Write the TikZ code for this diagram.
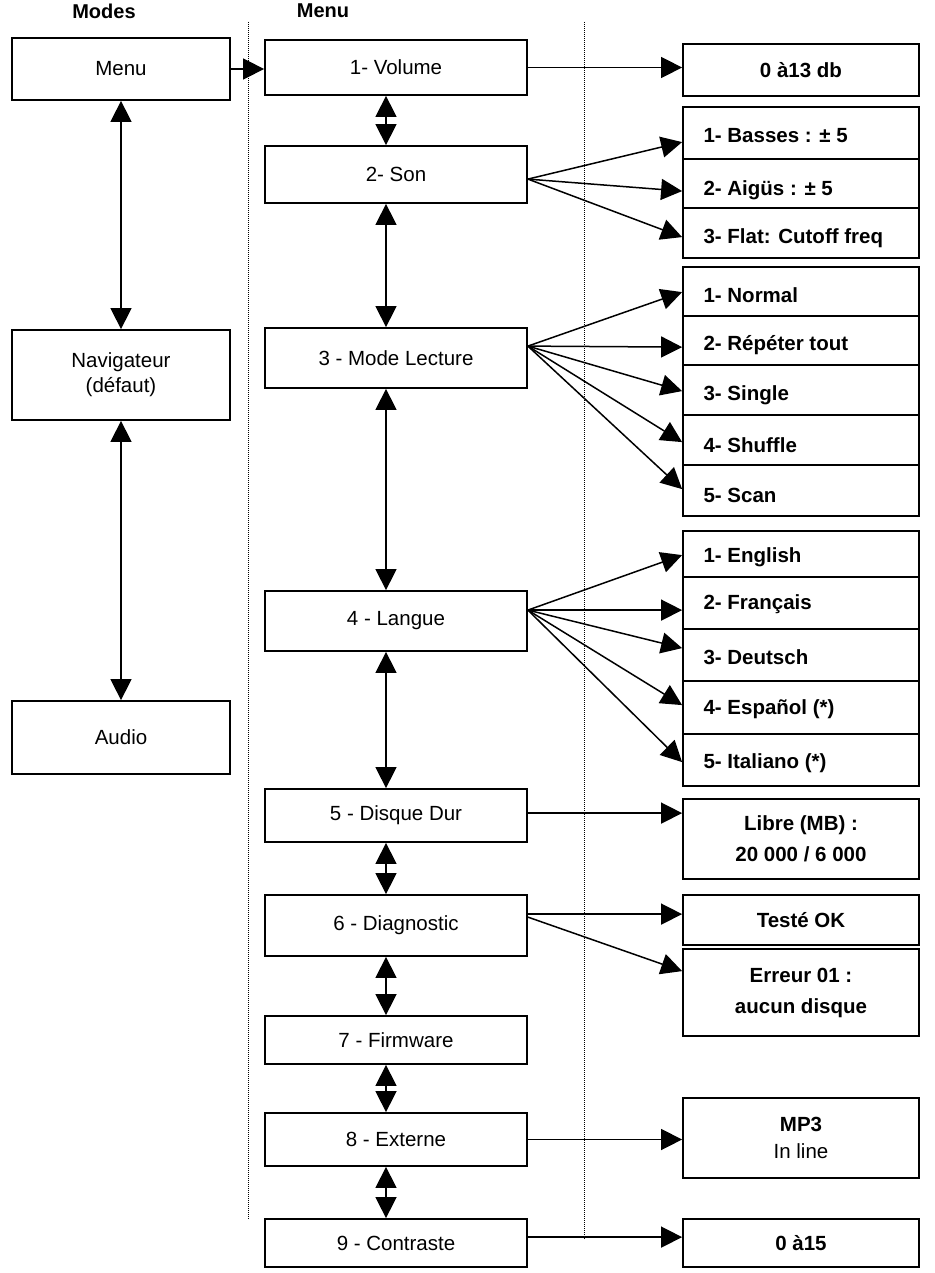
\documentclass[tikz,border=0pt]{standalone}
\usepackage{fontspec}
\setmainfont{Liberation Sans}
\usetikzlibrary{arrows.meta,calc}
\begin{document}
\begin{tikzpicture}[x=1pt,y=-1pt,
  box/.style={draw,line width=1.8pt,inner sep=0pt,font=\fontsize{20.5}{25}\selectfont,align=center},
  mbox/.style={box,minimum width=262pt},
  rbox/.style={box,minimum width=236pt,font=\fontsize{20.5}{25}\selectfont\bfseries},
  lbox/.style={box,minimum width=218pt},
  lt/.style={anchor=west,font=\fontsize{20.5}{25}\selectfont\bfseries},
  tip/.style={line width=1.5pt,-{Triangle[width=21pt,length=21pt]}},
  dbl/.style={line width=1.5pt,{Triangle[width=21pt,length=21pt]}-{Triangle[width=21pt,length=21pt]}},
  dot/.style={densely dotted,line width=1pt}]
\useasboundingbox (0,0) rectangle (934,1273);
% headers
\node[font=\fontsize{20}{24}\selectfont\bfseries] (hm) at (104,11) {Modes};
\node[font=\fontsize{20}{24}\selectfont\bfseries] (hn) at (323,11) {Menu};
% dotted separators
\coordinate (d1a) at (248,22); \coordinate (d1b) at (248,1220);
\coordinate (d2a) at (584,22); \coordinate (d2b) at (584,1240);
\draw[dot] (d1a) -- (d1b);
\draw[dot] (d2a) -- (d2b);
% left column
\node[lbox,minimum height=62pt] (menu) at (121,69) {Menu};
\node[lbox,minimum height=90pt] (nav) at (121,375) {Navigateur\\(défaut)};
\node[lbox,minimum height=73pt] (audio) at (121,737.5) {Audio};
\draw[dbl] (menu.south) -- (nav.north);
\draw[dbl] (nav.south) -- (audio.north);
% middle column
\node[mbox,minimum height=55pt] (m1) at (396,67.5) {1- Volume};
\node[mbox,minimum height=57pt] (m2) at (396,174.5) {2- Son};
\node[mbox,minimum height=60pt] (m3) at (396,358) {3 - Mode Lecture};
\node[mbox,minimum height=60pt] (m4) at (396,621) {4 - Langue};
\node[mbox,minimum height=53pt] (m5) at (396,815.5) {5 - Disque Dur};
\node[mbox,minimum height=61pt] (m6) at (396,925.5) {6 - Diagnostic};
\node[mbox,minimum height=48pt] (m7) at (396,1040) {7 - Firmware};
\node[mbox,minimum height=53pt] (m8) at (396,1139.5) {8 - Externe};
\node[mbox,minimum height=48pt] (m9) at (396,1243) {9 - Contraste};
\draw[tip] (menu.east) -- (menu.east -| m1.west);
\coordinate (cx) at (386,0);
\foreach \a/\b in {m1/m2,m2/m3,m3/m4,m4/m5,m5/m6,m6/m7,m7/m8,m8/m9}
  \draw[dbl] (\a.south -| cx) -- (\b.north -| cx);
% right column
\node[rbox,minimum height=52pt] (r1) at (801,70) {0 à13 db};
\node[rbox,minimum height=52pt] (s1) at (801,133) {};
\node[rbox,minimum height=49pt] (s2) at (801,183.5) {};
\node[rbox,minimum height=50pt] (s3) at (801,233) {};
\node[lt] (ts1) at (700,136) {1- Basses : ± 5};
\node[lt] (ts2) at (700,190) {2- Aigüs : ± 5};
\node[lt] (ts3) at (700,238) {3- Flat: Cutoff freq};
\node[rbox,minimum height=49pt] (p1) at (801,291.5) {};
\node[rbox,minimum height=49pt] (p2) at (801,340.5) {};
\node[rbox,minimum height=50pt] (p3) at (801,390) {};
\node[rbox,minimum height=50pt] (p4) at (801,440) {};
\node[rbox,minimum height=51pt] (p5) at (801,490.5) {};
\node[lt] (tp1) at (700,295) {1- Normal};
\node[lt] (tp2) at (700,345) {2- Répéter tout};
\node[lt] (tp3) at (700,395) {3- Single};
\node[lt] (tp4) at (700,445) {4- Shuffle};
\node[lt] (tp5) at (700,495) {5- Scan};
\node[rbox,minimum height=46pt] (l1) at (801,554) {};
\node[rbox,minimum height=52pt] (l2) at (801,603) {};
\node[rbox,minimum height=52pt] (l3) at (801,655) {};
\node[rbox,minimum height=53pt] (l4) at (801,707.5) {};
\node[rbox,minimum height=52pt] (l5) at (801,760) {};
\node[lt] (tl1) at (700,557) {1- English};
\node[lt] (tl2) at (700,604) {2- Français};
\node[lt] (tl3) at (700,657) {3- Deutsch};
\node[lt] (tl4) at (700,709) {4- Español (*)};
\node[lt] (tl5) at (700,763) {5- Italiano (*)};
\node[rbox,minimum height=80pt,font=\fontsize{20.5}{31}\selectfont\bfseries] (r5) at (801,839) {Libre (MB) :\\20 000 / 6 000};
\node[rbox,minimum height=50pt] (r6a) at (801,920) {Testé OK};
\node[rbox,minimum height=87pt,font=\fontsize{20.5}{31}\selectfont\bfseries] (r6b) at (801,992.5) {Erreur 01 :\\aucun disque};
\node[rbox,minimum height=80pt,font=\fontsize{20.5}{27}\selectfont] (r8) at (801,1138) {\textbf{MP3}\\In line};
\node[rbox,minimum height=48pt] (r9) at (801,1243) {0 à15};
% connectors
\draw[tip] (m1.east) -- (m1.east -| r1.west);
\coordinate (o2) at ($(m2.north east)+(0,34)$);
\draw[tip] (o2) -- ($(s1.north west)+(0,36)$);
\draw[tip] (o2) -- ($(s2.north west)+(0,33)$);
\draw[tip] (o2) -- ($(s3.north west)+(0,30)$);
\coordinate (o3) at ($(m3.north east)+(0,19)$);
\draw[tip] (o3) -- ($(p1.north west)+(0,26)$);
\draw[tip] (o3) -- ($(p2.north west)+(0,32)$);
\draw[tip] (o3) -- ($(p3.north west)+(0,27)$);
\draw[tip] (o3) -- ($(p4.north west)+(0,28)$);
\draw[tip] (o3) -- ($(p5.north west)+(0,25)$);
\coordinate (o4) at ($(m4.north east)+(0,20)$);
\draw[tip] (o4) -- ($(l1.north west)+(0,25)$);
\draw[tip] (o4) -- ($(l2.north west)+(0,34)$);
\draw[tip] (o4) -- ($(l3.north west)+(0,20)$);
\draw[tip] (o4) -- ($(l4.north west)+(0,25)$);
\draw[tip] (o4) -- ($(l5.north west)+(0,29)$);
\draw[tip] ($(m5.north east)+(0,25)$) -- ($(r5.north west)+(0,15)$);
\draw[tip] ($(m6.north east)+(0,20)$) -- ($(r6a.north west)+(0,20)$);
\draw[tip] ($(m6.north east)+(0,23)$) -- ($(r6b.north west)+(0,23)$);
\draw[tip] (m8.east) -- (m8.east -| r8.west);
\draw[tip] ($(m9.north east)+(0,19)$) -- ($(r9.north west)+(0,19)$);
\end{tikzpicture}
\end{document}
